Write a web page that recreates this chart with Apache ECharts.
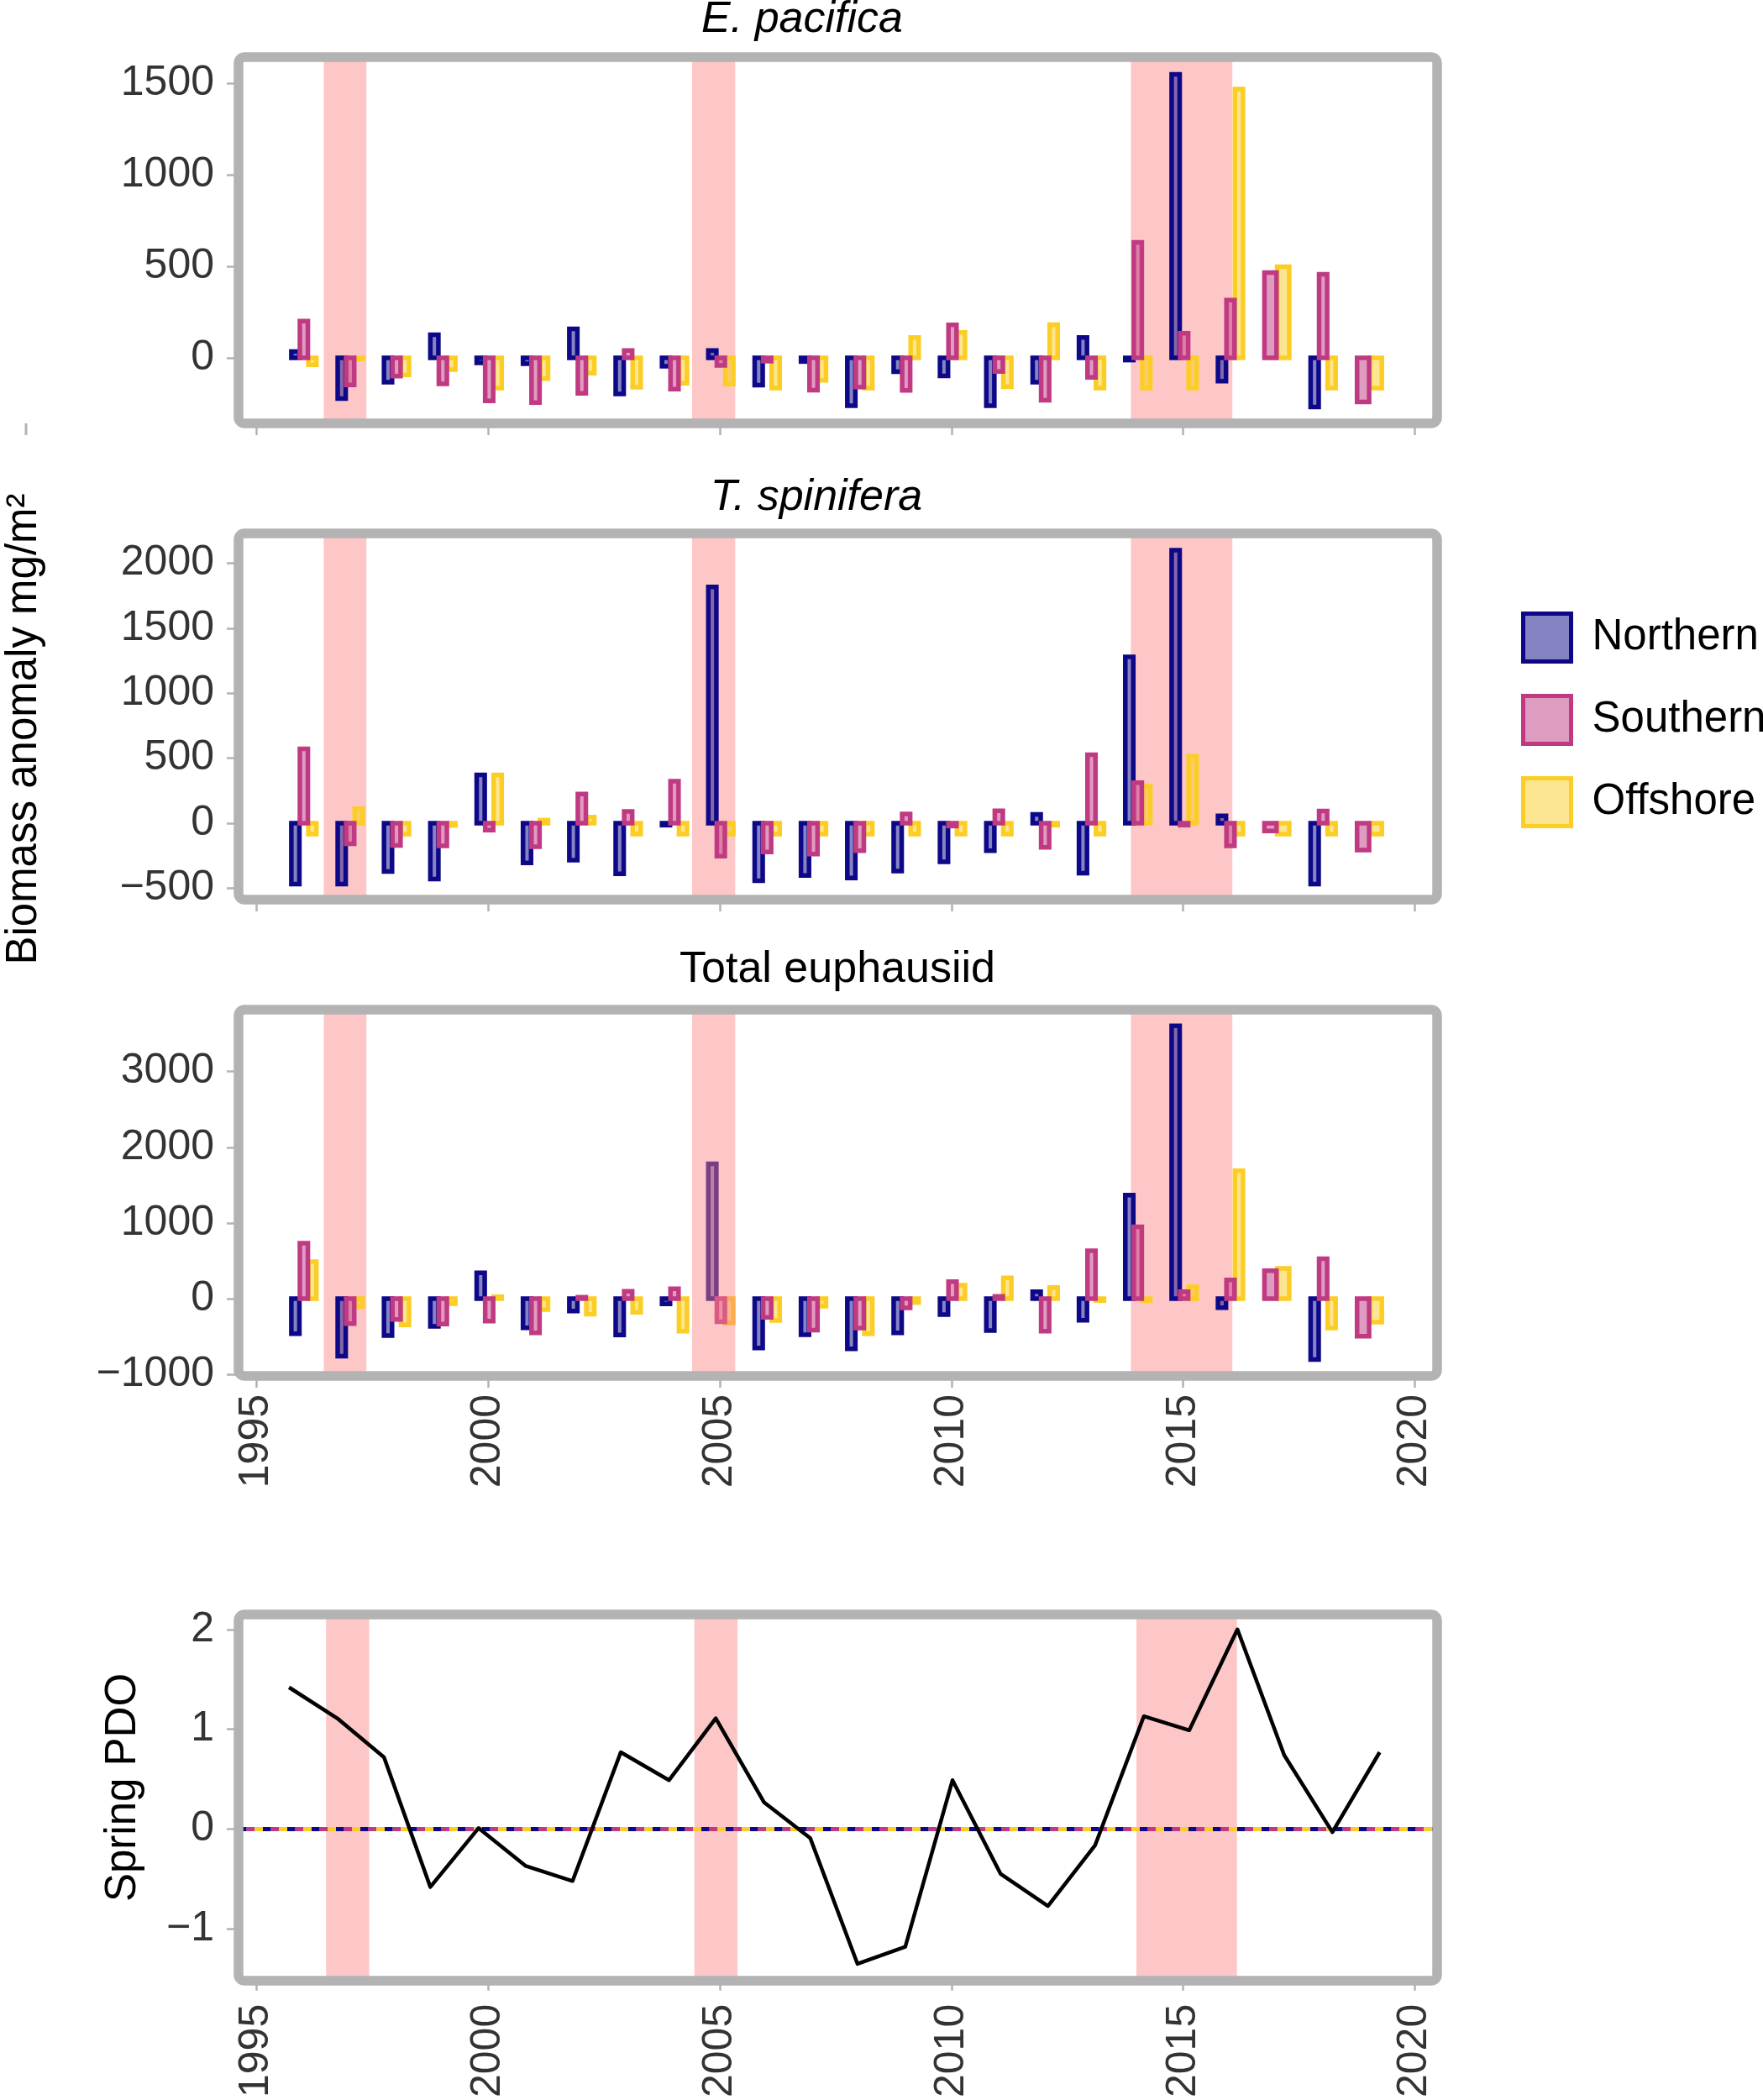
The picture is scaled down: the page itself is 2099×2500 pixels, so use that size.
<!DOCTYPE html>
<html>
<head>
<meta charset="utf-8">
<script src="https://cdn.jsdelivr.net/npm/echarts@6/dist/echarts.min.js"></script>
<style>
html,body{margin:0;padding:0;background:#fff;}
#chart{width:2099px;height:2500px;}
</style>
</head>
<body>
<div id="chart"></div>
<script>
// ---------------- data ----------------
const years = [1996,1997,1998,1999,2000,2001,2002,2003,2004,2005,2006,2007,2008,2009,2010,2011,2012,2013,2014,2015,2016,2017,2018,2019];
const regions = ['Northern','Southern','Offshore'];
const panelTitles = ['E. pacifica','T. spinifera','Total euphausiid'];

// E. pacifica biomass anomaly (mg/m2)
const epNorthern = [35,-223,-133,127,-27,-32,159,-197,-46,40,-149,-20,-261,-76,-99,-261,-133,111,-12,1550,-127,null,-268,null];
const epSouthern = [201,-148,-100,-142,-235,-244,-194,40,-171,-41,-18,-177,-159,-178,180,-75,-232,-107,631,134,316,466,457,-241];
const epOffshore = [-38,-6,-93,-64,-165,-114,-84,-160,-139,-143,-165,-123,-165,111,139,-157,181,-165,-165,-165,1470,498,-165,-165];

// T. spinifera biomass anomaly (mg/m2)
const tsNorthern = [-468,-468,-371,-429,371,-306,-284,-390,-15,1817,-442,-403,-422,-369,-297,-211,67,-384,1280,2100,56,null,-468,null];
const tsSouthern = [571,-159,-172,-175,-54,-181,224,90,323,-254,-222,-237,-211,71,-22,95,-185,526,312,-15,-175,-60,93,-207];
const tsOffshore = [-84,112,-84,-17,371,24,47,-84,-84,-84,-84,-84,-84,-84,-84,-84,-15,-84,284,515,-84,-84,-84,-84];

// Total euphausiid biomass anomaly (mg/m2)
const totNorthern = [-463,-759,-489,-367,341,-385,-163,-481,-70,1781,-652,-478,-663,-452,-211,-422,93,-285,1367,3604,-119,null,-804,null];
const totSouthern = [733,-330,-274,-337,-296,-452,19,96,130,-304,-248,-415,-389,-122,226,30,-430,633,948,93,248,370,526,-496];
const totOffshore = [489,-104,-348,-67,26,-144,-204,-181,-430,-322,-289,-100,-463,-52,178,274,148,-25,-25,159,1689,400,-389,-311];

// Spring PDO
const pdoYear = [1995.70,1996.74,1997.75,1998.75,1999.79,2000.81,2001.82,2002.86,2003.90,2004.91,2005.95,2006.95,2007.97,2009.00,2010.02,2011.06,2012.08,2013.10,2014.15,2015.13,2016.17,2017.18,2018.22,2019.24];
const pdoValue = [1.42,1.11,0.72,-0.58,0.01,-0.37,-0.52,0.77,0.49,1.11,0.27,-0.09,-1.35,-1.18,0.49,-0.45,-0.77,-0.16,1.13,0.99,2.00,0.74,-0.03,0.77];

// shaded periods [start, end]
const shadePeriods = [[1996.45,1997.37],[2004.40,2005.33],[2013.87,2016.06]];
const shadePeriodsPDO = [[1996.50,1997.43],[2004.45,2005.38],[2013.99,2016.16]];

// tick values
const xTicks = [1995,2000,2005,2010,2015,2020];
const yTicksEP = [0,500,1000,1500];
const yTicksTS = [-500,0,500,1000,1500,2000];
const yTicksTOT = [-1000,0,1000,2000,3000];
const yTicksPDO = [-1,0,1,2];

// ---------------- styling ----------------
const FONT = '"Liberation Sans", Arial, Helvetica, sans-serif';
const lineColors = {Northern:'#0D0887', Southern:'#C03A83', Offshore:'#FCCE25'};
const fillColors = {Northern:'rgba(13,8,135,0.5)', Southern:'rgba(192,58,131,0.5)', Offshore:'rgba(252,206,37,0.5)'};
const SHADE = 'rgba(250,130,130,0.45)';
const FRAME = '#b3b3b3';
const XMIN = 1994.61, XMAX = 2020.48;
const GL = 284, GW = 1427, GH = 436;
const gridTops = [68, 635, 1202, 1922];
const yRanges = [[-358,1644],[-588,2229],[-1021,3818],[-1.50,2.15]];
const yTickSets = [yTicksEP, yTicksTS, yTicksTOT, yTicksPDO];

const panelData = [
  {Northern: epNorthern, Southern: epSouthern, Offshore: epOffshore},
  {Northern: tsNorthern, Southern: tsSouthern, Offshore: tsOffshore},
  {Northern: totNorthern, Southern: totSouthern, Offshore: totOffshore}
];

const fmt = v => (v < 0 ? '\u2212' + Math.abs(v) : String(v));

// dodge: slot index & count per year
function barData(p, region) {
  const d = panelData[p];
  const out = [];
  years.forEach((yr, i) => {
    const present = regions.filter(r => d[r][i] !== null && d[r][i] !== undefined);
    const v = d[region][i];
    if (v === null || v === undefined) return;
    out.push([yr, v, present.indexOf(region), present.length]);
  });
  return out;
}

function barRender(region) {
  return function (params, api) {
    const yr = api.value(0), v = api.value(1), slot = api.value(2), n = api.value(3);
    const step = 0.55 / n, w = 0.52 / n;
    const c = yr + 0.02 + (slot - (n - 1) / 2) * step;
    const p0 = api.coord([c - w / 2, 0]);
    const p1 = api.coord([c + w / 2, v]);
    return {
      type: 'rect',
      shape: {x: p0[0], y: Math.min(p0[1], p1[1]), width: p1[0] - p0[0], height: Math.abs(p1[1] - p0[1])},
      style: {fill: fillColors[region], stroke: lineColors[region], lineWidth: 5.5, lineJoin: 'miter'}
    };
  };
}

function shadeRender(p) {
  return function (params, api) {
    const a = api.coord([api.value(0), yRanges[p][1]]);
    const b = api.coord([api.value(1), yRanges[p][0]]);
    return {type: 'rect', shape: {x: a[0], y: a[1], width: b[0] - a[0], height: b[1] - a[1]}, style: {fill: SHADE}};
  };
}

const grids = gridTops.map(t => ({left: GL, top: t, width: GW, height: GH}));

const xAxes = gridTops.map((t, i) => ({
  type: 'value', gridIndex: i, min: XMIN, max: XMAX,
  axisLine: {show: false, onZero: false}, splitLine: {show: false},
  axisTick: {show: true, length: 14, customValues: xTicks, lineStyle: {color: FRAME, width: 2.5}},
  axisLabel: {show: i >= 2, customValues: xTicks, rotate: 90, margin: i === 2 ? 22 : 30,
              fontSize: 50, color: '#333333', fontFamily: FONT, formatter: v => String(v)}
}));

const yAxes = gridTops.map((t, i) => ({
  type: 'value', gridIndex: i, min: yRanges[i][0], max: yRanges[i][1],
  axisLine: {show: false, onZero: false}, splitLine: {show: false},
  axisTick: {show: true, length: 14, customValues: yTickSets[i], lineStyle: {color: FRAME, width: 2.5}},
  axisLabel: {customValues: yTickSets[i], margin: 29, fontSize: 50, color: '#333333', fontFamily: FONT, formatter: fmt}
}));

const series = [];
for (let p = 0; p < 3; p++) {
  // shading below bars (in total panel the 2005 period is drawn above the bars)
  const below = shadePeriods.filter((s, k) => !(p === 2 && k === 1));
  series.push({type: 'custom', name: 'shade', xAxisIndex: p, yAxisIndex: p, z: 1, silent: true,
               renderItem: shadeRender(p), data: below, encode: {x: [0, 1]}});
  ['Northern', 'Offshore', 'Southern'].forEach(r => {
    series.push({type: 'custom', name: r, xAxisIndex: p, yAxisIndex: p, z: 3,
                 renderItem: barRender(r), data: barData(p, r), encode: {x: 0, y: 1}});
  });
  if (p === 2) {
    series.push({type: 'custom', name: 'shade2', xAxisIndex: p, yAxisIndex: p, z: 6, silent: true,
                 renderItem: shadeRender(p), data: [shadePeriods[1]], encode: {x: [0, 1]}});
  }
}
// PDO panel
series.push({type: 'custom', name: 'shadePDO', xAxisIndex: 3, yAxisIndex: 3, z: 1, silent: true,
             renderItem: shadeRender(3), data: shadePeriodsPDO, encode: {x: [0, 1]}});
[['Northern', 0], ['Southern', 19.33], ['Offshore', 9.67]].forEach(([r, off]) => {
  series.push({type: 'line', name: 'zero-' + r, xAxisIndex: 3, yAxisIndex: 3, z: 3, silent: true,
               symbol: 'none', data: [[XMIN, 0], [XMAX, 0]],
               lineStyle: {color: lineColors[r], width: 5, type: [9.67, 19.33], dashOffset: off}});
});
series.push({type: 'line', name: 'Spring PDO', xAxisIndex: 3, yAxisIndex: 3, z: 5,
             symbol: 'none', data: pdoYear.map((x, i) => [x, pdoValue[i]]),
             lineStyle: {color: '#000', width: 4.5, join: 'round'}});

const graphics = [];
gridTops.forEach(t => {
  graphics.push({type: 'rect', z: 50, silent: true,
    shape: {x: GL, y: t, width: GW, height: GH, r: 7},
    style: {fill: null, stroke: FRAME, lineWidth: 11.5}});
});
const titlePos = [[955, 24, 'italic'], [972, 593, 'italic'], [997, 1155, 'normal']];
panelTitles.forEach((txt, i) => {
  graphics.push({type: 'text', x: titlePos[i][0], y: titlePos[i][1], z: 60,
    style: {text: txt, fontSize: 52, fontFamily: FONT, fontStyle: titlePos[i][2], fill: '#000',
            align: 'center', verticalAlign: 'middle'}});
});
graphics.push({type: 'text', x: 29, y: 868, rotation: Math.PI / 2, z: 60,
  style: {text: 'Biomass anomaly mg/m\u00B2', fontSize: 51, fontFamily: FONT, fill: '#000',
          align: 'center', verticalAlign: 'middle'}});
graphics.push({type: 'text', x: 147, y: 2128, rotation: Math.PI / 2, z: 60,
  style: {text: 'Spring PDO', fontSize: 51, fontFamily: FONT, fill: '#000',
          align: 'center', verticalAlign: 'middle'}});
graphics.push({type: 'line', z: 60, silent: true,
  shape: {x1: 31, y1: 504, x2: 31, y2: 518}, style: {stroke: FRAME, lineWidth: 3}});

const option = {
  animation: false,
  backgroundColor: '#ffffff',
  grid: grids,
  xAxis: xAxes,
  yAxis: yAxes,
  legend: {
    orient: 'vertical', left: 1806, top: 723, itemWidth: 57, itemHeight: 57, itemGap: 36,
    icon: 'rect', selectedMode: false,
    textStyle: {fontSize: 51, color: '#000', fontFamily: FONT, padding: [0, 0, 0, 20]},
    data: regions.map(r => ({name: r, itemStyle: {color: fillColors[r], borderColor: lineColors[r], borderWidth: 5}}))
  },
  graphic: graphics,
  series: series
};

const chart = echarts.init(document.getElementById('chart'), null, {renderer: 'canvas'});
chart.setOption(option);
</script>
</body>
</html>
